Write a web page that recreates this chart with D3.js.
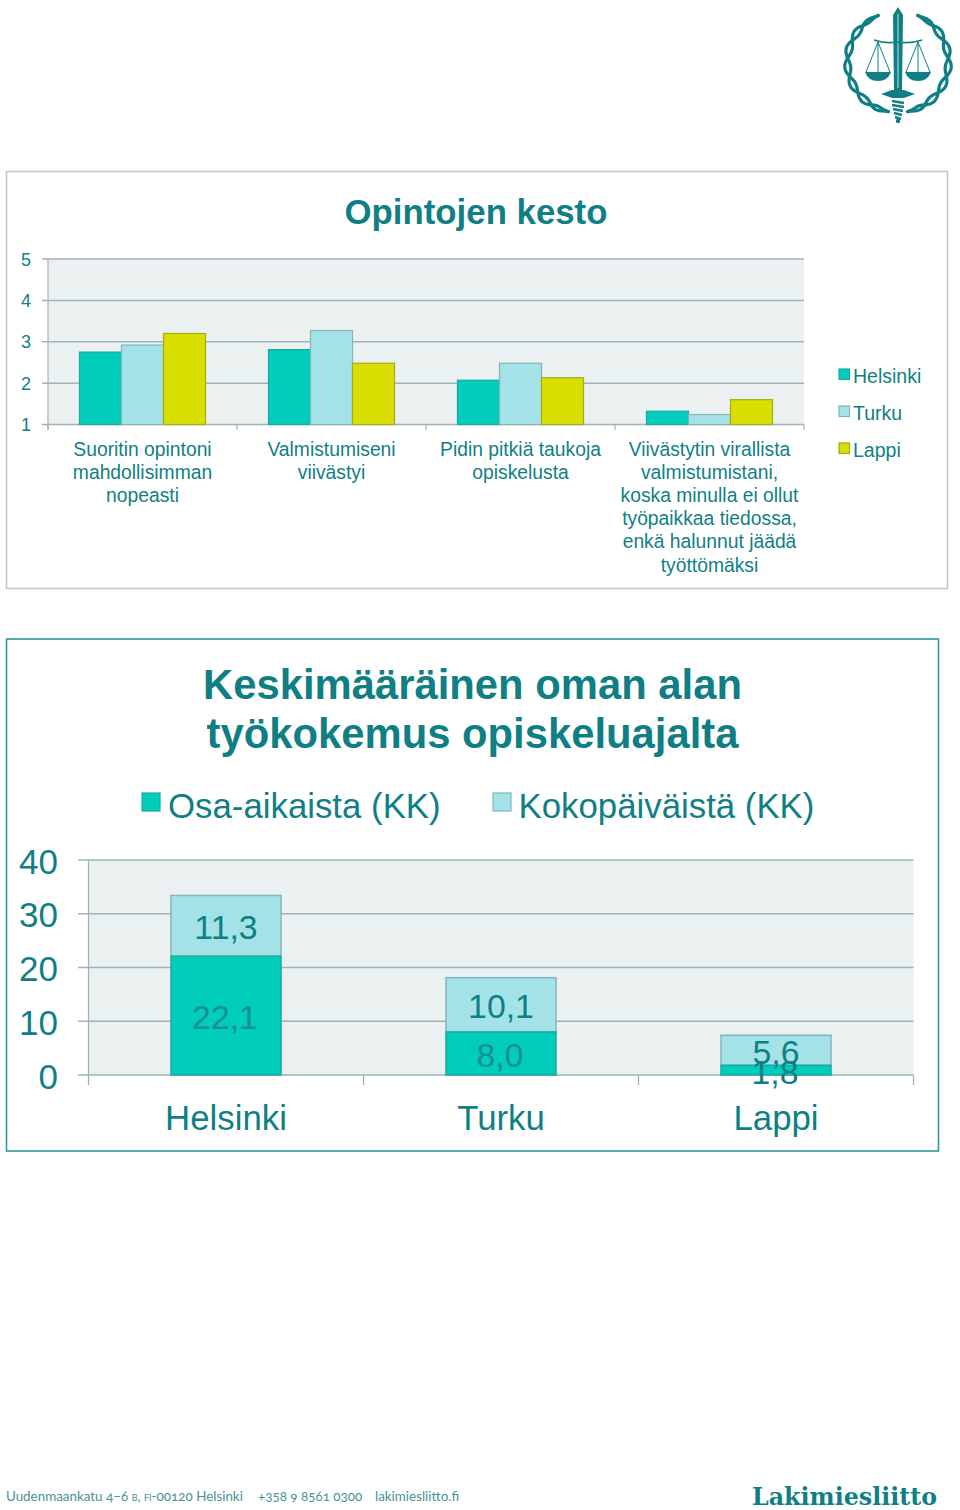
<!DOCTYPE html>
<html><head><meta charset="utf-8">
<script src="https://cdn.jsdelivr.net/npm/d3@7"></script>
<style>html,body{margin:0;background:#fff}svg{display:block}text{font-family:"Liberation Sans",Arial,sans-serif}</style>
</head><body><script>
const questionCats = [
  ["Suoritin opintoni","mahdollisimman","nopeasti"],
  ["Valmistumiseni","viivästyi"],
  ["Pidin pitkiä taukoja","opiskelusta"],
  ["Viivästytin virallista","valmistumistani,","koska minulla ei ollut","työpaikkaa tiedossa,","enkä halunnut jäädä","työttömäksi"]
];
const citySeries = ["Helsinki","Turku","Lappi"];
const helsinkiVals = [2.75,2.81,2.07,1.32];
const turkuVals = [2.92,3.27,2.48,1.24];
const lappiVals = [3.2,2.48,2.13,1.6];
const durationTicks = [1,2,3,4,5];
const workCats = ["Helsinki","Turku","Lappi"];
const workSeries = ["Osa-aikaista (KK)","Kokopäiväistä (KK)"];
const partTime = [22.1,8.0,1.8];
const fullTime = [11.3,10.1,5.6];
const workTicks = [0,10,20,30,40];
const footerItems = ["+358 9 8561 0300","lakimiesliitto.fi"];

const TEAL="#0f7f85", GRID="#9cb4b6", PLOT="#ebf0f1";
const C1="#00cdbc", C2="#a3e3e8", C3="#d8df00";
const S1="#1ba99f", S2="#85b4b8", S3="#a5ab10";
const svg=d3.select("body").append("svg").attr("width",960).attr("height",1510);
const fi=v=>v.toFixed(1).replace(".",",");

/* ---------- logo ---------- */
const logo=svg.append("g").attr("fill",TEAL).attr("stroke",TEAL);
const wreathLine=d3.line().curve(d3.curveCatmullRom);
[-1,1].forEach(side=>{
  [0,Math.PI].forEach(ph=>{
    const pts=d3.range(0,1.001,0.01).map(t=>{
      const a=(-67+t*146)*Math.PI/180;
      const amp=3*Math.min(1,t*6,(1-t)*8);
      const r=50.5+amp*Math.sin(t*Math.PI*7+ph);
      return [898+side*r*Math.cos(a),62+r*Math.sin(a)];
    });
    logo.append("path").attr("d",wreathLine(pts)).attr("fill","none").attr("stroke-width",3.2).attr("stroke-linecap","round");
  });
});
logo.append("path").attr("stroke","none").attr("d","M898 7L903 15L902 90H894L893 15Z");
logo.append("path").attr("stroke","#bfe4e4").attr("stroke-width",1).attr("fill","none").attr("d","M898 14V88");
logo.append("path").attr("stroke","none").attr("d","M881 94L892 90H904L915 94L904 98H892Z");
logo.append("path").attr("fill","none").attr("stroke-width",2.4).attr("d","M892 101L904 103M892 105L904 107M893 109L903 111M894 113L902 115M895 117L901 119");
logo.append("circle").attr("cx",898).attr("cy",121).attr("r",2.2).attr("stroke","none");
logo.append("path").attr("fill","none").attr("stroke-width",1.6).attr("d","M874 40Q886 44 898 42Q910 44 922 40");
[878,918].forEach(cx=>{
  logo.append("path").attr("fill","none").attr("stroke-width",1).attr("d",`M${cx-12} 72L${cx} 42L${cx+12} 72M${cx} 42V72`);
  logo.append("path").attr("stroke","none").attr("d",`M${cx-13} 72H${cx+13}Q${cx+10} 81 ${cx} 81Q${cx-10} 81 ${cx-13} 72Z`);
});

/* ---------- chart 1 ---------- */
svg.append("rect").attr("x",6.5).attr("y",171.5).attr("width",941).attr("height",417).attr("fill","#fff").attr("stroke","#b9c9cb").attr("stroke-width",1.6);
svg.append("text").attr("x",476).attr("y",224).attr("text-anchor","middle").attr("font-size",34.8).attr("font-weight",700).attr("fill",TEAL).text("Opintojen kesto");
const x1=d3.scaleBand().domain(d3.range(questionCats.length)).range([48,804]).paddingInner(1/3).paddingOuter(1/6);
const x1in=d3.scaleBand().domain(citySeries).range([0,x1.bandwidth()]);
const y1=d3.scaleLinear().domain([1,5]).range([424.5,259]);
const g1=svg.append("g");
g1.append("rect").attr("x",48).attr("y",y1(5)).attr("width",756).attr("height",y1(1)-y1(5)).attr("fill",PLOT);
g1.selectAll(".gl").data(durationTicks).join("line").attr("x1",42).attr("x2",804).attr("y1",d=>y1(d)).attr("y2",d=>y1(d)).attr("stroke",GRID).attr("stroke-width",1.5);
g1.append("line").attr("x1",48).attr("x2",48).attr("y1",y1(5)).attr("y2",430).attr("stroke",GRID).attr("stroke-width",1.2);
[0,1,2,3,4].forEach(i=>g1.append("line").attr("x1",48+i*189).attr("x2",48+i*189).attr("y1",y1(1)).attr("y2",430).attr("stroke",GRID).attr("stroke-width",1.2));
g1.selectAll(".tl").data(durationTicks).join("text").attr("x",31).attr("y",d=>y1(d)+6.5).attr("text-anchor","end").attr("font-size",18).attr("fill",TEAL).text(d=>d);
[[helsinkiVals,C1,S1],[turkuVals,C2,S2],[lappiVals,C3,S3]].forEach(([vals,f,s],k)=>{
  g1.selectAll(".b"+k).data(vals).join("rect")
    .attr("x",(d,i)=>x1(i)+x1in(citySeries[k])).attr("width",x1in.bandwidth())
    .attr("y",d=>y1(d)).attr("height",d=>y1(1)-y1(d)).attr("fill",f).attr("stroke",s).attr("stroke-width",1.2);
});
questionCats.forEach((lines,i)=>{
  const t=g1.append("text").attr("text-anchor","middle").attr("font-size",19.3).attr("fill",TEAL);
  lines.forEach((l,j)=>t.append("tspan").attr("x",x1(i)+x1.bandwidth()/2).attr("y",455.5+j*23.2).text(l));
});
citySeries.forEach((c,i)=>{
  const yy=375+i*37;
  g1.append("rect").attr("x",839).attr("y",yy-6).attr("width",10.5).attr("height",10.5).attr("fill",[C1,C2,C3][i]).attr("stroke",[S1,S2,S3][i]).attr("stroke-width",1.2);
  g1.append("text").attr("x",853).attr("y",yy+7.5).attr("font-size",19.5).attr("fill",TEAL).text(c);
});

/* ---------- chart 2 ---------- */
svg.append("rect").attr("x",6.5).attr("y",639).attr("width",932).attr("height",512).attr("fill","#fff").attr("stroke","#2f9a9d").attr("stroke-width",1.6);
[["Keskimääräinen oman alan",698.5],["työkokemus opiskeluajalta",747.5]].forEach(([s,y])=>
  svg.append("text").attr("x",472.5).attr("y",y).attr("text-anchor","middle").attr("font-size",41.8).attr("font-weight",700).attr("fill",TEAL).text(s));
const x2=d3.scaleBand().domain(workCats).range([88.5,913.5]).paddingInner(.6).paddingOuter(.3);
const y2=d3.scaleLinear().domain([0,40]).range([1075,860]);
const g2=svg.append("g");
g2.append("rect").attr("x",88.5).attr("y",y2(40)).attr("width",825).attr("height",215).attr("fill",PLOT);
g2.selectAll(".gl").data(workTicks).join("line").attr("x1",78).attr("x2",913.5).attr("y1",d=>y2(d)).attr("y2",d=>y2(d)).attr("stroke",GRID).attr("stroke-width",1.6);
g2.append("line").attr("x1",88.5).attr("x2",88.5).attr("y1",y2(40)).attr("y2",1085).attr("stroke",GRID).attr("stroke-width",1.3);
[1,2,3].forEach(i=>g2.append("line").attr("x1",88.5+i*275).attr("x2",88.5+i*275).attr("y1",1075).attr("y2",1085).attr("stroke",GRID).attr("stroke-width",1.3));
g2.selectAll(".tl").data(workTicks).join("text").attr("x",58).attr("y",d=>y2(d)+13.5).attr("text-anchor","end").attr("font-size",35).attr("fill",TEAL).text(d=>d);
workCats.forEach((c,i)=>{
  const p=partTime[i], q=fullTime[i], bx=x2(c), w=x2.bandwidth();
  g2.append("rect").attr("x",bx).attr("width",w).attr("y",y2(p+q)).attr("height",y2(p)-y2(p+q)).attr("fill",C2).attr("stroke",S2).attr("stroke-width",1.5);
  g2.append("rect").attr("x",bx).attr("width",w).attr("y",y2(p)).attr("height",y2(0)-y2(p)).attr("fill",C1).attr("stroke",S1).attr("stroke-width",1.5);
  g2.append("text").attr("x",bx+w/2).attr("y",(y2(p+q)+y2(p))/2+13.5).attr("text-anchor","middle").attr("font-size",33.8).attr("fill",TEAL).text(fi(q));
  g2.append("text").attr("x",bx+w/2-1).attr("y",(y2(p)+y2(0))/2+13.5).attr("text-anchor","middle").attr("font-size",33.8).attr("fill",i==2?TEAL:"#16908f").text(fi(p));
  g2.append("text").attr("x",bx+w/2).attr("y",1130).attr("text-anchor","middle").attr("font-size",34.8).attr("fill",TEAL).text(c);
});
[[142,168,C1,S1],[493,518.5,C2,S2]].forEach(([sx,tx,f,s],i)=>{
  g2.append("rect").attr("x",sx).attr("y",793).attr("width",18).attr("height",18).attr("fill",f).attr("stroke",s).attr("stroke-width",1.2);
  g2.append("text").attr("x",tx).attr("y",817.5).attr("font-size",34.8).attr("fill",TEAL).text(workSeries[i]);
});

/* ---------- footer ---------- */
const foot=svg.append("g").attr("font-size",13.4).attr("fill","#4a9094").style("font-variant-numeric","oldstyle-nums");
const ft=foot.append("text").attr("x",6).attr("y",1501).style("font-family","Lato");
ft.append("tspan").text("Uudenmaankatu 4–6 ");
ft.append("tspan").attr("font-size",9).text("B");
ft.append("tspan").text(", ");
ft.append("tspan").attr("font-size",9).text("FI");
ft.append("tspan").text("-00120 Helsinki");
foot.append("text").attr("x",258).attr("y",1501).style("font-family","Lato").text(footerItems[0]);
foot.append("text").attr("x",375).attr("y",1501).style("font-family","Lato").text(footerItems[1]);
svg.append("text").attr("x",752).attr("y",1505).attr("font-size",23.5).attr("font-weight",700).attr("fill",TEAL).style("font-family","'DejaVu Serif'").attr("textLength",185).attr("lengthAdjust","spacingAndGlyphs").text("Lakimiesliitto");
</script></body></html>
